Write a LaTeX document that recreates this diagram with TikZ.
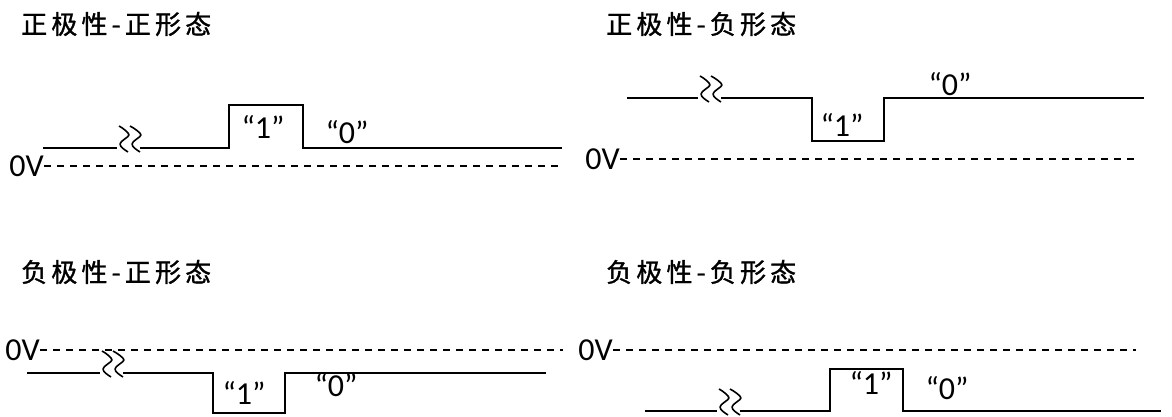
\documentclass[tikz,border=0pt]{standalone}
\usepackage{fontspec}
\setmainfont{Carlito}
\newfontfamily\cjk[LetterSpace=16,FakeBold=1.2]{Noto Sans CJK SC}
\begin{document}
\begin{tikzpicture}[x=1pt,y=-1pt,
  wave/.style={line width=1.8pt, line join=miter},
  brkline/.style={line width=1.6pt, line join=round},
  zero/.style={line width=1.3pt, dash pattern=on 7pt off 6pt},
  lbl/.style={font=\fontsize{32}{32}\selectfont, inner sep=0pt},
  ttl/.style={font=\cjk\fontsize{26}{26}\selectfont, anchor=west, inner sep=0pt},
  brk/.pic={
    \draw[brkline] (2,-22) .. controls (6,-20) and (12,-15) .. (12,-13)
                           .. controls (12,-11) and (3,-7) .. (3,-4)
                           .. controls (3,-1) and (8,2) .. (11,4);
    \draw[brkline] (13,-22) .. controls (17,-20) and (24,-15) .. (24,-13)
                            .. controls (24,-11) and (15,-7) .. (15,-4)
                            .. controls (15,-1) and (20,2) .. (23,4);
  }]
\useasboundingbox (0,0) rectangle (1172,416);

% ---------- top left ----------
\node[ttl] (t1) at (21,24) {正极性-正形态};
\node[lbl, anchor=east] (v1) at (44,166) {0V};
\coordinate (d1) at (564,166);
\draw[zero] (v1.east) -- (d1);
\draw[wave] (43,148) -- (117,148);
\pic at (117,148) {brk};
\draw[wave] (140,148) -- (229,148) -- (229,105) -- (303,105) -- (303,148) -- (562,148);
\node[lbl] (a1) at (263,127) {“1”};
\node[lbl] (b1) at (347,132) {“0”};

% ---------- top right ----------
\node[ttl] (t2) at (606,24) {正极性-负形态};
\node[lbl, anchor=east] (v2) at (620,159) {0V};
\coordinate (d2) at (1139,159);
\draw[zero] (v2.east) -- (d2);
\draw[wave] (627,98) -- (698,98);
\pic at (698,98) {brk};
\draw[wave] (721,98) -- (812,98) -- (812,141) -- (884,141) -- (884,98) -- (1144,98);
\node[lbl] (a2) at (842,125) {“1”};
\node[lbl] (b2) at (950,84) {“0”};

% ---------- bottom left ----------
\node[ttl] (t3) at (21,272) {负极性-正形态};
\node[lbl, anchor=east] (v3) at (40,350) {0V};
\coordinate (d3) at (563,350);
\draw[zero] (v3.east) -- (d3);
\draw[wave] (27,373) -- (100,373);
\pic at (100,373) {brk};
\draw[wave] (123,373) -- (213,373) -- (213,413) -- (285,413) -- (285,373) -- (546,373);
\node[lbl] (a3) at (244,393) {“1”};
\node[lbl] (b3) at (336,385) {“0”};

% ---------- bottom right ----------
\node[ttl] (t4) at (606,272) {负极性-负形态};
\node[lbl, anchor=east] (v4) at (613,350) {0V};
\coordinate (d4) at (1136,350);
\draw[zero] (v4.east) -- (d4);
\draw[wave] (645,411) -- (717,411);
\pic at (717,411) {brk};
\draw[wave] (740,411) -- (830,411) -- (830,369) -- (903,369) -- (903,411) -- (1161,411);
\node[lbl] (a4) at (871,383) {“1”};
\node[lbl] (b4) at (947,388) {“0”};
\end{tikzpicture}
\end{document}
